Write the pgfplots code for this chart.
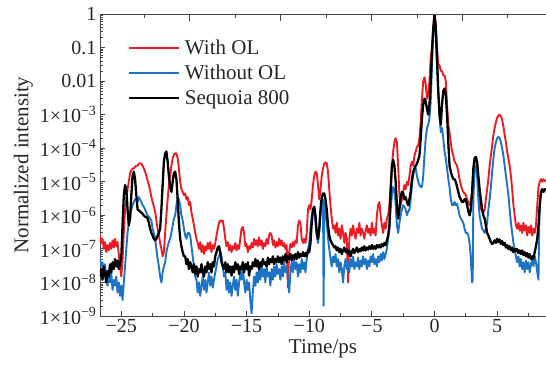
\documentclass[border=0pt]{standalone}
\usepackage{pgfplots}
\pgfplotsset{compat=1.18}
\usepackage{pgfplotstable}
\usepackage{fontspec}
\setmainfont{Liberation Serif}
\definecolor{cred}{RGB}{235,28,36}
\definecolor{cblue}{RGB}{30,116,196}
\definecolor{axgray}{RGB}{70,70,70}

\pgfplotstableread[row sep=\\]{x y\\
-26.7 1.5e-8\\ -26.6 2.5e-8\\ -26.5 1.2e-8\\ -26.4 3e-8\\ -26.3 1.8e-8\\ -26.2 1e-8\\ -26.1 2.2e-8\\ -26.0 1.5e-8\\ -25.9 3.5e-8\\ -25.8 2e-8\\
-25.7 4e-8\\ -25.6 2.5e-8\\ -25.5 5e-8\\ -25.4 3e-8\\ -25.3 4.5e-8\\ -25.2 2.5e-8\\ -25.1 3.5e-8\\ -25.0 6e-8\\ -24.9 5e-7\\ -24.8 4e-6\\
-24.7 8e-6\\ -24.6 6e-6\\ -24.5 1.5e-6\\ -24.4 5e-7\\ -24.3 8e-7\\ -24.2 4e-6\\ -24.1 1.5e-5\\ -24.0 2e-5\\ -23.9 1.2e-5\\ -23.8 4e-6\\
-23.7 1.5e-6\\ -23.6 1.4e-6\\ -23.5 1.3e-6\\ -23.4 1.2e-6\\ -23.3 1.1e-6\\ -23.2 1e-6\\ -23.1 9e-7\\ -23.0 9e-7\\ -22.9 8e-7\\ -22.8 6e-7\\
-22.7 4e-7\\ -22.6 3e-7\\ -22.5 2.5e-7\\ -22.4 2e-7\\ -22.3 1.8e-7\\ -22.2 2e-7\\ -22.1 2.5e-7\\ -22.0 3e-7\\ -21.9 4e-7\\ -21.8 1.5e-6\\
-21.7 8e-6\\ -21.6 4e-5\\ -21.5 7e-5\\ -21.4 8e-5\\ -21.3 4e-5\\ -21.2 1.5e-5\\ -21.1 7e-6\\ -21.0 5e-6\\ -20.9 1e-5\\ -20.8 1.8e-5\\
-20.7 2e-5\\ -20.6 1.2e-5\\ -20.5 3e-6\\ -20.4 6e-7\\ -20.3 2e-7\\ -20.2 1.2e-7\\ -20.1 8e-8\\ -20.0 6e-8\\
-19.9 6e-8\\ -19.8 3.5e-8\\ -19.7 5e-8\\ -19.6 2.5e-8\\ -19.5 4e-8\\ -19.4 3e-8\\ -19.3 2e-8\\ -19.2 3.5e-8\\ -19.1 1.8e-8\\ -19.0 3e-8\\
-18.9 1.5e-8\\ -18.8 2.5e-8\\ -18.7 2e-8\\ -18.6 3.5e-8\\ -18.5 2e-8\\ -18.4 1.5e-8\\ -18.3 3e-8\\ -18.2 2e-8\\ -18.1 4e-8\\ -18.0 2.5e-8\\
-17.9 3.5e-8\\ -17.8 2e-8\\ -17.7 4e-8\\ -17.6 3e-8\\ -17.5 6e-8\\ -17.4 8e-8\\ -17.3 1.1e-7\\ -17.2 1.2e-7\\ -17.1 8e-8\\ -17.0 4e-8\\
-16.9 3e-8\\ -16.8 2.5e-8\\ -16.7 4e-8\\ -16.6 2e-8\\ -16.5 3.5e-8\\ -16.4 2e-8\\ -16.3 3e-8\\ -16.2 1.6e-8\\ -16.1 3e-8\\ -16.0 2e-8\\
-15.9 4e-8\\ -15.8 2.5e-8\\ -15.7 3.5e-8\\ -15.6 1.8e-8\\ -15.5 3e-8\\ -15.4 2.5e-8\\ -15.3 4e-8\\ -15.2 2e-8\\ -15.1 3.5e-8\\ -15.0 2.5e-8\\
-14.9 4e-8\\ -14.8 1.6e-8\\ -14.7 3e-8\\ -14.6 2.5e-8\\ -14.5 4e-8\\ -14.4 3e-8\\ -14.3 5e-8\\ -14.2 3e-8\\ -14.1 4.5e-8\\ -14.0 2.5e-8\\
-13.9 4e-8\\ -13.8 3e-8\\ -13.7 5e-8\\ -13.6 3.5e-8\\ -13.5 4e-8\\ -13.4 3e-8\\ -13.3 5.5e-8\\ -13.2 3.5e-8\\ -13.1 5e-8\\ -13.0 4e-8\\
-12.9 6e-8\\ -12.8 3.5e-8\\ -12.7 5e-8\\ -12.6 4e-8\\ -12.5 6e-8\\ -12.4 4e-8\\ -12.3 5.5e-8\\ -12.2 3.5e-8\\ -12.1 6e-8\\ -12.0 4.5e-8\\
-11.9 7e-8\\ -11.8 4e-8\\ -11.7 6e-8\\ -11.6 5e-8\\ -11.5 7e-8\\ -11.4 4.5e-8\\ -11.3 6.5e-8\\ -11.2 5e-8\\ -11.1 7e-8\\ -11.0 5e-8\\
-10.9 8e-8\\ -10.8 5.5e-8\\ -10.7 7e-8\\ -10.6 6e-8\\ -10.5 8e-8\\ -10.4 6e-8\\ -10.3 7.5e-8\\ -10.2 6e-8\\ -10.1 9e-8\\ -10.0 8e-8\\
-9.9 1.5e-7\\ -9.8 6e-7\\ -9.7 1.5e-6\\ -9.6 1.8e-6\\ -9.5 1e-6\\ -9.4 3e-7\\ -9.3 2e-7\\ -9.2 4e-7\\ -9.1 1.5e-6\\ -9.0 3.5e-6\\
-8.9 4.5e-6\\ -8.8 4.5e-6\\ -8.7 3e-6\\ -8.6 1.5e-6\\ -8.5 5e-7\\ -8.4 2.5e-7\\ -8.3 1.8e-7\\ -8.2 1.5e-7\\ -8.1 1.3e-7\\ -8.0 1.1e-7\\
-7.9 1.2e-7\\ -7.8 9e-8\\ -7.7 1.1e-7\\ -7.6 8e-8\\ -7.5 1e-7\\ -7.4 7e-8\\ -7.3 9e-8\\ -7.2 1.1e-7\\ -7.1 8e-8\\ -7.0 1e-7\\
-6.9 7e-8\\ -6.8 9e-8\\ -6.7 6e-8\\ -6.6 8e-8\\ -6.5 1e-7\\ -6.4 7.5e-8\\ -6.3 9e-8\\ -6.2 1.1e-7\\ -6.1 8e-8\\ -6.0 1e-7\\
-5.9 8.5e-8\\ -5.8 1.1e-7\\ -5.7 9e-8\\ -5.6 1.2e-7\\ -5.5 9e-8\\ -5.4 1.1e-7\\ -5.3 9.5e-8\\ -5.2 1.2e-7\\ -5.1 1e-7\\ -5.0 1.3e-7\\
-4.9 1e-7\\ -4.8 1.2e-7\\ -4.7 1e-7\\ -4.6 1.3e-7\\ -4.5 1.1e-7\\ -4.4 1.3e-7\\ -4.3 1.1e-7\\ -4.2 1.4e-7\\ -4.1 1.2e-7\\ -4.0 1.5e-7\\
-3.9 1.3e-7\\ -3.8 1.8e-7\\ -3.7 2.5e-7\\ -3.6 5e-7\\ -3.5 5e-6\\ -3.4 3e-5\\ -3.3 4.5e-5\\ -3.2 3e-5\\ -3.1 1e-5\\ -3.0 2e-6\\
-2.9 8e-7\\ -2.8 1.5e-6\\ -2.7 3.5e-6\\ -2.6 5e-6\\ -2.5 4.5e-6\\ -2.4 3e-6\\ -2.3 3.5e-6\\ -2.2 2.5e-6\\ -2.1 2e-6\\ -2.0 3e-6\\
-1.9 5e-6\\ -1.8 1.2e-5\\ -1.7 2e-5\\ -1.6 2.5e-5\\ -1.5 3e-5\\ -1.4 3.5e-5\\ -1.3 4.5e-5\\ -1.2 6e-5\\ -1.1 2e-4\\ -1.0 8e-4\\
-0.9 2e-3\\ -0.8 3e-3\\ -0.7 2.5e-3\\ -0.6 1.5e-3\\ -0.5 1e-3\\ -0.4 2e-3\\ -0.3 1e-2\\ -0.2 8e-2\\ -0.1 0.35\\ 0.0 1\\
0.1 0.4\\ 0.2 0.05\\ 0.3 5e-3\\ 0.4 1e-3\\ 0.5 5e-4\\ 0.6 2e-3\\ 0.7 5e-3\\ 0.8 6e-3\\ 0.9 4e-3\\ 1.0 1e-3\\
1.1 1.5e-4\\ 1.2 3e-5\\ 1.3 2e-5\\ 1.4 1.5e-5\\ 1.5 1.2e-5\\ 1.6 1.2e-5\\ 1.7 1e-5\\ 1.8 7e-6\\ 1.9 5e-6\\ 2.0 3.5e-6\\
2.1 3e-6\\ 2.2 2.5e-6\\ 2.3 2.5e-6\\ 2.4 3e-6\\ 2.5 3e-6\\ 2.6 2e-6\\ 2.7 1.3e-6\\ 2.8 1e-6\\ 2.9 1.5e-6\\ 3.0 5e-6\\
3.1 2.5e-5\\ 3.2 5e-5\\ 3.3 5.5e-5\\ 3.4 4e-5\\ 3.5 1.5e-5\\ 3.6 6e-6\\ 3.7 3e-6\\ 3.8 1.5e-6\\ 3.9 1e-6\\ 4.0 8e-7\\
4.1 5e-7\\ 4.2 3e-7\\ 4.3 2.5e-7\\ 4.4 2e-7\\ 4.5 1.6e-7\\ 4.6 1.4e-7\\ 4.7 1.5e-7\\ 4.8 1.8e-7\\ 4.9 1.5e-7\\ 5.0 2e-7\\
5.1 1.6e-7\\ 5.2 1.9e-7\\ 5.3 1.4e-7\\ 5.4 1.7e-7\\ 5.5 1.3e-7\\ 5.6 1.5e-7\\ 5.7 1.1e-7\\ 5.8 1.3e-7\\ 5.9 1e-7\\ 6.0 1.2e-7\\
6.1 9e-8\\ 6.2 1.1e-7\\ 6.3 8e-8\\ 6.4 1e-7\\ 6.5 8.5e-8\\ 6.6 1e-7\\ 6.7 7.5e-8\\ 6.8 9e-8\\ 6.9 7e-8\\ 7.0 9e-8\\
7.1 6.5e-8\\ 7.2 8e-8\\ 7.3 6e-8\\ 7.4 7.5e-8\\ 7.5 5.5e-8\\ 7.6 7e-8\\ 7.7 5e-8\\ 7.8 6e-8\\ 7.9 5e-8\\ 8.0 8e-8\\
8.1 1.2e-7\\ 8.2 2e-7\\ 8.3 5e-7\\ 8.4 2e-6\\ 8.5 5e-6\\ 8.6 6e-6\\ 8.7 5e-6\\ 8.8 6e-6\\ 8.9 5.5e-6\\
}\tblack

\pgfplotstableread[row sep=\\]{x y\\
-26.7 2.5e-7\\ -26.6 1.5e-7\\ -26.5 2e-7\\ -26.4 1e-7\\ -26.3 1.6e-7\\ -26.2 8e-8\\ -26.1 1.3e-7\\ -26.0 9e-8\\ -25.9 1.5e-7\\ -25.8 1e-7\\
-25.7 1.8e-7\\ -25.6 1.1e-7\\ -25.5 2e-7\\ -25.4 1.2e-7\\ -25.3 1.6e-7\\ -25.2 7e-8\\ -25.1 3e-8\\ -25.0 1.5e-8\\ -24.9 5e-8\\ -24.8 3e-7\\
-24.7 1.5e-6\\ -24.6 3e-6\\ -24.5 6e-6\\ -24.4 1e-5\\ -24.3 1.8e-5\\ -24.2 2.2e-5\\ -24.1 2.5e-5\\ -24.0 2.5e-5\\ -23.9 2.8e-5\\ -23.8 3e-5\\
-23.7 3e-5\\ -23.6 3.5e-5\\ -23.5 3.5e-5\\ -23.4 3.5e-5\\ -23.3 3e-5\\ -23.2 2.5e-5\\ -23.1 2e-5\\ -23.0 1.5e-5\\ -22.9 1.1e-5\\ -22.8 8e-6\\
-22.7 5.5e-6\\ -22.6 3.5e-6\\ -22.5 2.5e-6\\ -22.4 1.8e-6\\ -22.3 1.3e-6\\ -22.2 7e-7\\ -22.1 4e-7\\ -22.0 2.5e-7\\ -21.9 1.5e-7\\ -21.8 1e-7\\
-21.7 6e-8\\ -21.6 8e-8\\ -21.5 3e-7\\ -21.4 1e-6\\ -21.3 3e-6\\ -21.2 8e-6\\ -21.1 1.5e-5\\ -21.0 3e-5\\ -20.9 5e-5\\ -20.8 6.5e-5\\
-20.7 7e-5\\ -20.6 7e-5\\ -20.5 5e-5\\ -20.4 2.5e-5\\ -20.3 1e-5\\ -20.2 6e-6\\ -20.1 5e-6\\ -20.0 4e-6\\ -19.9 4.5e-6\\ -19.8 3e-6\\
-19.7 3.5e-6\\ -19.6 2e-6\\ -19.5 2.5e-6\\ -19.4 1.2e-6\\ -19.3 8e-7\\ -19.2 5e-7\\ -19.1 3e-7\\ -19.0 2e-7\\ -18.9 1.5e-7\\ -18.8 1e-7\\
-18.7 1.6e-7\\ -18.6 8e-8\\ -18.5 1.3e-7\\ -18.4 7e-8\\ -18.3 1.2e-7\\ -18.2 9e-8\\ -18.1 1.5e-7\\ -18.0 1e-7\\ -17.9 1.6e-7\\ -17.8 8e-8\\
-17.7 1.3e-7\\ -17.6 1e-7\\ -17.5 1.5e-7\\ -17.4 2.5e-7\\ -17.3 4e-7\\ -17.2 6e-7\\ -17.1 7e-7\\ -17.0 6.5e-7\\ -16.9 7e-7\\ -16.8 4e-7\\
-16.7 2e-7\\ -16.6 1.2e-7\\ -16.5 1.6e-7\\ -16.4 9e-8\\ -16.3 1.3e-7\\ -16.2 8e-8\\ -16.1 1.2e-7\\ -16.0 1e-7\\ -15.9 1.5e-7\\ -15.8 9e-8\\
-15.7 1.3e-7\\ -15.6 1e-7\\ -15.5 2e-7\\ -15.4 4e-7\\ -15.3 4.5e-7\\ -15.2 3e-7\\ -15.1 1.2e-7\\ -15.0 1.4e-7\\ -14.9 8e-8\\ -14.8 1.2e-7\\
-14.7 1e-7\\ -14.6 1.5e-7\\ -14.5 1.1e-7\\ -14.4 2e-7\\ -14.3 1.3e-7\\ -14.2 1.8e-7\\ -14.1 1.2e-7\\ -14.0 2.2e-7\\ -13.9 1.3e-7\\ -13.8 1.8e-7\\
-13.7 1e-7\\ -13.6 1.5e-7\\ -13.5 1.2e-7\\ -13.4 2e-7\\ -13.3 1.4e-7\\ -13.2 2.5e-7\\ -13.1 3e-7\\ -13.0 2.5e-7\\ -12.9 1.3e-7\\ -12.8 1.8e-7\\
-12.7 1.1e-7\\ -12.6 1.6e-7\\ -12.5 1.2e-7\\ -12.4 2e-7\\ -12.3 1.3e-7\\ -12.2 1.8e-7\\ -12.1 1.2e-7\\ -12.0 1.5e-7\\ -11.9 1e-7\\ -11.8 1.3e-7\\
-11.7 7e-9\\ -11.6 8e-8\\ -11.5 1.4e-7\\ -11.4 1.1e-7\\ -11.3 1.6e-7\\ -11.2 1.2e-7\\ -11.1 1.8e-7\\ -11.0 1.5e-7\\ -10.9 5e-7\\ -10.8 7e-7\\
-10.7 6e-7\\ -10.6 2e-7\\ -10.5 1.5e-7\\ -10.4 2e-7\\ -10.3 1.5e-7\\ -10.2 3e-7\\ -10.1 1.5e-6\\ -10.0 2e-6\\ -9.9 1.5e-6\\ -9.8 3e-6\\
-9.7 8e-6\\ -9.6 1.5e-5\\ -9.5 2e-5\\ -9.4 1.8e-5\\ -9.3 8e-6\\ -9.2 3e-6\\ -9.1 6e-6\\ -9.0 1.5e-5\\ -8.9 2.5e-5\\ -8.8 3.5e-5\\
-8.7 3.8e-5\\ -8.6 3.5e-5\\ -8.5 2e-5\\ -8.4 6e-6\\ -8.3 2e-6\\ -8.2 8e-7\\ -8.1 4e-7\\ -8.0 5e-7\\ -7.9 3e-7\\ -7.8 6e-7\\
-7.7 2.5e-7\\ -7.6 4e-7\\ -7.5 2e-7\\ -7.4 5e-7\\ -7.3 3e-7\\ -7.2 1.5e-7\\ -7.1 3e-7\\ -7.0 2e-7\\ -6.9 1e-8\\ -6.8 2e-7\\
-6.7 4e-7\\ -6.6 2.5e-7\\ -6.5 5e-7\\ -6.4 3e-7\\ -6.3 2e-7\\ -6.2 4e-7\\ -6.1 3e-7\\ -6.0 6e-7\\ -5.9 2.5e-7\\ -5.8 4e-7\\
-5.7 3e-7\\ -5.6 2e-7\\ -5.5 3.5e-7\\ -5.4 5e-7\\ -5.3 3e-7\\ -5.2 4e-7\\ -5.1 2.5e-7\\ -5.0 6e-7\\ -4.9 3e-7\\ -4.8 4e-7\\
-4.7 2.5e-7\\ -4.6 1e-6\\ -4.5 2e-6\\ -4.4 2.5e-6\\ -4.3 1e-6\\ -4.2 5e-7\\ -4.1 3e-7\\ -4.0 6e-7\\ -3.9 4e-7\\ -3.8 8e-7\\
-3.7 1e-6\\ -3.6 2e-6\\ -3.5 8e-6\\ -3.4 3e-5\\ -3.3 8e-5\\ -3.2 1.5e-4\\ -3.1 2e-4\\ -3.0 1.5e-4\\ -2.9 3e-5\\ -2.8 4e-6\\
-2.7 2e-6\\ -2.6 3e-6\\ -2.5 5e-6\\ -2.4 8e-6\\ -2.3 6e-6\\ -2.2 1e-5\\ -2.1 8e-6\\ -2.0 1.5e-5\\ -1.9 3e-5\\ -1.8 4e-5\\
-1.7 3e-5\\ -1.6 6e-5\\ -1.5 8e-5\\ -1.4 1.1e-4\\ -1.3 1.2e-4\\ -1.2 2e-4\\ -1.1 6e-4\\ -1.0 3e-3\\ -0.9 1e-2\\ -0.8 1.3e-2\\
-0.7 8e-3\\ -0.6 3e-3\\ -0.5 4e-3\\ -0.4 1e-2\\ -0.3 5e-2\\ -0.2 0.1\\ -0.1 0.4\\ 0.0 1\\ 0.1 0.5\\ 0.2 0.1\\
0.3 3e-2\\ 0.4 3e-2\\ 0.5 2e-2\\ 0.6 2e-2\\ 0.7 1.5e-2\\ 0.8 1.5e-2\\ 0.9 1e-2\\ 1.0 2e-3\\ 1.1 5e-4\\ 1.2 3e-4\\
1.3 1.5e-4\\ 1.4 8e-5\\ 1.5 6e-5\\ 1.6 4e-5\\ 1.7 3.5e-5\\ 1.8 3e-5\\ 1.9 2e-5\\ 2.0 1.2e-5\\ 2.1 8e-6\\ 2.2 6e-6\\
2.3 5e-6\\ 2.4 4.5e-6\\ 2.5 4e-6\\ 2.6 3e-6\\ 2.7 2.5e-6\\ 2.8 2e-6\\ 2.9 2.5e-6\\ 3.0 5e-6\\ 3.1 2e-5\\ 3.2 4.5e-5\\
3.3 5.5e-5\\ 3.4 3e-5\\ 3.5 8e-6\\ 3.6 3e-6\\ 3.7 1.5e-6\\ 3.8 1.5e-6\\ 3.9 1.2e-6\\ 4.0 1.5e-6\\ 4.1 3e-6\\ 4.2 6e-6\\
4.3 1.2e-5\\ 4.4 3e-5\\ 4.5 6e-5\\ 4.6 1.2e-4\\ 4.7 2.5e-4\\ 4.8 4e-4\\ 4.9 6e-4\\ 5.0 8e-4\\ 5.1 9.5e-4\\ 5.2 1e-3\\
5.3 9e-4\\ 5.4 7e-4\\ 5.5 4.5e-4\\ 5.6 2.5e-4\\ 5.7 1.5e-4\\ 5.8 8e-5\\ 5.9 5e-5\\ 6.0 3e-5\\ 6.1 1.5e-5\\ 6.2 6e-6\\
6.3 2e-6\\ 6.4 1e-6\\ 6.5 5e-7\\ 6.6 4e-7\\ 6.7 6e-7\\ 6.8 3.5e-7\\ 6.9 5e-7\\ 7.0 3e-7\\ 7.1 6e-7\\ 7.2 3.5e-7\\
7.3 5e-7\\ 7.4 2.5e-7\\ 7.5 4.5e-7\\ 7.6 3e-7\\ 7.7 5e-7\\ 7.8 2.5e-7\\ 7.9 4e-7\\ 8.0 3e-7\\ 8.1 5e-7\\ 8.2 2e-6\\
8.3 7e-6\\ 8.4 1e-5\\ 8.5 1.2e-5\\ 8.6 1e-5\\ 8.7 1.2e-5\\ 8.8 1.1e-5\\ 8.9 1e-5\\
}\tred

\pgfplotstableread[row sep=\\]{x y\\
-26.7 5e-8\\ -26.6 3e-8\\ -26.5 4e-8\\ -26.4 2e-8\\ -26.3 3.5e-8\\ -26.2 1.5e-8\\ -26.1 8e-9\\ -26.0 1.5e-8\\ -25.9 1e-8\\ -25.8 2e-8\\
-25.7 6e-9\\ -25.6 1.2e-8\\ -25.5 8e-9\\ -25.4 1.5e-8\\ -25.3 5e-9\\ -25.2 1e-8\\ -25.1 4e-9\\ -25.0 8e-9\\ -24.9 3e-9\\ -24.8 1e-8\\
-24.7 3e-8\\ -24.6 1e-7\\ -24.5 3e-7\\ -24.4 6e-7\\ -24.3 1e-6\\ -24.2 1.5e-6\\ -24.1 2e-6\\ -24.0 2.5e-6\\ -23.9 3e-6\\ -23.8 3e-6\\
-23.7 2.5e-6\\ -23.6 3.5e-6\\ -23.5 3e-6\\ -23.4 2.5e-6\\ -23.3 2e-6\\ -23.2 1.8e-6\\ -23.1 1.5e-6\\ -23.0 1.2e-6\\ -22.9 1e-6\\ -22.8 9e-7\\
-22.7 8e-7\\ -22.6 7e-7\\ -22.5 4e-7\\ -22.4 3e-7\\ -22.3 2e-7\\ -22.2 1e-7\\ -22.1 5e-8\\ -22.0 3e-8\\ -21.9 1.5e-8\\ -21.8 1e-8\\
-21.7 2e-8\\ -21.6 3e-8\\ -21.5 4e-8\\ -21.4 8e-8\\ -21.3 1.2e-7\\ -21.2 1.6e-7\\ -21.1 2e-7\\ -21.0 3e-7\\ -20.9 5e-7\\ -20.8 8e-7\\
-20.7 1e-6\\ -20.6 2e-6\\ -20.5 3.5e-6\\ -20.4 3e-6\\ -20.3 2e-6\\ -20.2 1e-6\\ -20.1 7e-7\\ -20.0 4e-7\\ -19.9 2.5e-7\\ -19.8 2e-7\\
-19.7 3e-7\\ -19.6 3e-7\\ -19.5 2.5e-7\\ -19.4 1.2e-7\\ -19.3 6e-8\\ -19.2 3e-8\\ -19.1 1.5e-8\\ -19.0 1.2e-8\\ -18.9 5e-9\\ -18.8 1e-8\\
-18.7 4e-9\\ -18.6 8e-9\\ -18.5 1.5e-8\\ -18.4 6e-9\\ -18.3 1.2e-8\\ -18.2 5e-9\\ -18.1 1e-8\\ -18.0 2e-8\\ -17.9 8e-9\\ -17.8 1.5e-8\\
-17.7 7e-9\\ -17.6 1.2e-8\\ -17.5 2e-8\\ -17.4 3e-8\\ -17.3 5e-8\\ -17.2 6e-8\\ -17.1 8e-8\\ -17.0 6e-8\\ -16.9 3e-8\\ -16.8 1.5e-8\\
-16.7 2e-8\\ -16.6 6e-9\\ -16.5 1.2e-8\\ -16.4 5e-9\\ -16.3 1e-8\\ -16.2 4e-9\\ -16.1 8e-9\\ -16.0 1.5e-8\\ -15.9 6e-9\\ -15.8 1.2e-8\\
-15.7 4e-9\\ -15.6 1e-8\\ -15.5 2e-8\\ -15.4 1.2e-8\\ -15.3 3e-8\\ -15.2 1e-8\\ -15.1 5e-9\\ -15.0 1.2e-8\\ -14.9 6e-9\\ -14.8 1e-8\\
-14.7 3e-9\\ -14.6 1.2e-9\\ -14.5 5e-9\\ -14.4 1.5e-8\\ -14.3 8e-9\\ -14.2 2e-8\\ -14.1 1e-8\\ -14.0 2.5e-8\\ -13.9 1.2e-8\\ -13.8 3e-8\\
-13.7 1.5e-8\\ -13.6 2.5e-8\\ -13.5 1e-8\\ -13.4 3e-8\\ -13.3 1.5e-8\\ -13.2 2e-8\\ -13.1 8e-9\\ -13.0 2.5e-8\\ -12.9 1.2e-8\\ -12.8 3e-8\\
-12.7 1.5e-8\\ -12.6 3.5e-8\\ -12.5 1.8e-8\\ -12.4 2.5e-8\\ -12.3 1.2e-8\\ -12.2 3e-8\\ -12.1 1.5e-8\\ -12.0 4e-8\\ -11.9 2e-8\\ -11.8 3e-8\\
-11.7 1.2e-8\\ -11.6 5e-9\\ -11.5 2e-8\\ -11.4 4e-8\\ -11.3 2e-8\\ -11.2 5e-8\\ -11.1 2.5e-8\\ -11.0 4e-8\\ -10.9 1.5e-8\\ -10.8 3.5e-8\\
-10.7 2e-8\\ -10.6 5e-8\\ -10.5 2.5e-8\\ -10.4 4e-8\\ -10.3 2e-8\\ -10.2 5e-8\\ -10.1 1e-7\\ -10.0 1.5e-7\\ -9.9 4e-7\\ -9.8 1e-6\\
-9.7 1.3e-6\\ -9.6 1.2e-6\\ -9.5 6e-7\\ -9.4 2.5e-7\\ -9.3 1.5e-7\\ -9.2 3e-7\\ -9.1 1e-6\\ -9.0 2.5e-6\\ -8.9 3e-6\\ -8.85 2e-9\\
-8.8 2.5e-6\\ -8.7 1.5e-6\\ -8.6 6e-7\\ -8.5 2e-7\\ -8.4 1e-7\\ -8.3 5e-8\\ -8.2 3e-8\\ -8.1 6e-8\\ -8.0 4e-8\\ -7.9 7e-8\\
-7.8 3e-8\\ -7.7 5e-8\\ -7.6 2e-8\\ -7.5 4e-8\\ -7.4 2.5e-8\\ -7.3 1e-8\\ -7.2 3e-8\\ -7.1 5e-8\\ -7.0 2.5e-8\\ -6.9 4e-8\\
-6.8 2e-8\\ -6.7 5e-8\\ -6.6 3e-8\\ -6.5 6e-8\\ -6.4 2.5e-8\\ -6.3 4e-8\\ -6.2 3e-8\\ -6.1 5.5e-8\\ -6.0 2.5e-8\\ -5.9 4.5e-8\\
-5.8 3e-8\\ -5.7 6e-8\\ -5.6 3.5e-8\\ -5.5 5e-8\\ -5.4 2.5e-8\\ -5.3 4.5e-8\\ -5.2 3e-8\\ -5.1 6e-8\\ -5.0 4e-8\\ -4.9 7e-8\\
-4.8 3.5e-8\\ -4.7 5e-8\\ -4.6 3e-8\\ -4.5 6e-8\\ -4.4 4e-8\\ -4.3 7e-8\\ -4.2 4.5e-8\\ -4.1 8e-8\\ -4.0 5e-8\\ -3.9 7e-8\\
-3.8 1e-7\\ -3.7 2e-7\\ -3.6 4e-7\\ -3.5 1.5e-6\\ -3.4 4e-6\\ -3.3 7e-6\\ -3.2 6e-6\\ -3.1 2e-6\\ -3.0 5e-7\\ -2.9 3e-7\\
-2.8 6e-7\\ -2.7 1e-6\\ -2.6 1.5e-6\\ -2.5 2e-6\\ -2.4 1.8e-6\\ -2.3 1.5e-6\\ -2.2 1e-6\\ -2.1 1.3e-6\\ -2.0 1.5e-6\\ -1.9 3e-6\\
-1.8 8e-6\\ -1.7 1.5e-5\\ -1.6 2.5e-5\\ -1.5 2.5e-5\\ -1.4 1.5e-5\\ -1.3 1e-5\\ -1.2 8e-6\\ -1.1 7e-6\\ -1.0 7e-6\\ -0.9 1.5e-5\\
-0.8 6e-5\\ -0.7 2e-4\\ -0.6 4e-4\\ -0.5 5e-4\\ -0.4 8e-4\\ -0.3 2.5e-3\\ -0.2 3e-2\\ -0.1 0.3\\ 0.0 0.8\\ 0.1 0.2\\
0.2 3e-2\\ 0.3 5e-3\\ 0.4 1e-3\\ 0.5 3e-4\\ 0.6 4e-4\\ 0.7 2e-4\\ 0.8 8e-5\\ 0.9 5e-5\\ 1.0 2.5e-5\\ 1.1 1.2e-5\\
1.2 7e-6\\ 1.3 3e-6\\ 1.4 2e-6\\ 1.5 2e-6\\ 1.6 2.5e-6\\ 1.7 2e-6\\ 1.8 2.2e-6\\ 1.9 1.5e-6\\ 2.0 1e-6\\ 2.1 8e-7\\
2.2 7e-7\\ 2.3 6e-7\\ 2.4 4e-7\\ 2.5 3e-7\\ 2.6 3e-7\\ 2.7 2.5e-7\\ 2.8 1.5e-7\\ 2.9 5e-8\\ 3.0 1e-8\\ 3.05 1.2e-8\\
3.1 3e-6\\ 3.2 2e-5\\ 3.3 3e-5\\ 3.4 1.5e-5\\ 3.5 3e-6\\ 3.6 1e-6\\ 3.7 6e-7\\ 3.8 4e-7\\ 3.9 3.5e-7\\ 4.0 3e-7\\
4.1 4e-7\\ 4.2 6e-7\\ 4.3 1.5e-6\\ 4.4 3e-6\\ 4.5 7e-6\\ 4.6 2e-5\\ 4.7 5e-5\\ 4.8 1e-4\\ 4.9 1.5e-4\\ 5.0 2e-4\\
5.1 2.2e-4\\ 5.2 2e-4\\ 5.3 1.5e-4\\ 5.4 1e-4\\ 5.5 6e-5\\ 5.6 3e-5\\ 5.7 1.5e-5\\ 5.8 8e-6\\ 5.9 4e-6\\ 6.0 1.5e-6\\
6.1 6e-7\\ 6.2 3e-7\\ 6.3 1.5e-7\\ 6.4 1e-7\\ 6.5 6e-8\\ 6.6 4e-8\\ 6.7 6e-8\\ 6.8 3e-8\\ 6.9 5e-8\\ 7.0 2.5e-8\\
7.1 4e-8\\ 7.2 2e-8\\ 7.3 4.5e-8\\ 7.4 2.5e-8\\ 7.5 4e-8\\ 7.6 2e-8\\ 7.7 3.5e-8\\ 7.8 5e-8\\ 7.9 3e-8\\ 8.0 6e-8\\
8.1 4e-8\\ 8.2 2e-8\\ 8.3 1.2e-8\\ 8.35 3e-7\\ 8.4 2e-6\\ 8.5 5e-6\\ 8.6 6e-6\\ 8.7 5e-6\\ 8.8 6e-6\\ 8.9 5.5e-6\\
}\tblue

\begin{document}
\begin{tikzpicture}
\begin{axis}[
  scale only axis, width=446pt, height=302pt,
  xmin=-26.7, xmax=8.9, ymin=1e-9, ymax=1, ymode=log,
  axis x line*=bottom, axis y line*=left,
  axis line style={axgray, line width=0.8pt},
  tick style={axgray, line width=0.8pt},
  tick align=inside,
  major tick length=5pt, minor tick length=3pt,
  xtick={-25,-20,-15,-10,-5,0,5},
  xticklabels={−25,−20,−15,−10,−5,0,5},
  minor xtick={-22.5,-17.5,-12.5,-7.5,-2.5,2.5,7.5},
  ytick={1e-9,1e-8,1e-7,1e-6,1e-5,1e-4,1e-3,1e-2,1e-1,1},
  yticklabels={1×10\textsuperscript{−9},1×10\textsuperscript{−8},1×10\textsuperscript{−7},1×10\textsuperscript{−6},1×10\textsuperscript{−5},1×10\textsuperscript{−4},1×10\textsuperscript{−3},0.01,0.1,1},
  minor ytick={2e-9,3e-9,4e-9,5e-9,6e-9,7e-9,8e-9,9e-9,
    2e-8,3e-8,4e-8,5e-8,6e-8,7e-8,8e-8,9e-8,
    2e-7,3e-7,4e-7,5e-7,6e-7,7e-7,8e-7,9e-7,
    2e-6,3e-6,4e-6,5e-6,6e-6,7e-6,8e-6,9e-6,
    2e-5,3e-5,4e-5,5e-5,6e-5,7e-5,8e-5,9e-5,
    2e-4,3e-4,4e-4,5e-4,6e-4,7e-4,8e-4,9e-4,
    2e-3,3e-3,4e-3,5e-3,6e-3,7e-3,8e-3,9e-3,
    2e-2,3e-2,4e-2,5e-2,6e-2,7e-2,8e-2,9e-2,
    2e-1,3e-1,4e-1,5e-1,6e-1,7e-1,8e-1,9e-1},
  tick label style={font=\fontsize{20}{24}\selectfont\rmfamily, text=black!85},
  label style={font=\fontsize{21}{25}\selectfont\rmfamily, text=black!85},
  xlabel={Time/ps}, ylabel={Normalized intensity},
  legend cell align=left,
  legend style={draw=none, fill=none, at={(0.063,0.93)}, anchor=north west,
    inner sep=0pt, row sep=0pt, column sep=2pt,
    font=\fontsize{21}{25}\selectfont\rmfamily,
    nodes={inner sep=2.5pt, text height=17pt, text depth=3pt, text=black!85}},
  legend image code/.code={\draw[#1, line width=2.2pt] (0pt,0pt) -- (50pt,0pt);},
  every axis plot/.append style={line join=round},
]
\addplot[cred, line width=1.9pt] table[x=x,y=y] {\tred};
\addlegendentry{With OL}
\addplot[cblue, line width=1.9pt] table[x=x,y=y] {\tblue};
\addlegendentry{Without OL}
\addplot[black, line width=2.3pt] table[x=x,y=y] {\tblack};
\addlegendentry{Sequoia 800}
\coordinate (O) at (rel axis cs:0,0);
\coordinate (T) at (rel axis cs:1,1);
\end{axis}
\begin{axis}[
  scale only axis, width=446pt, height=302pt,
  xmin=-26.7, xmax=8.9, ymin=1e-9, ymax=1, ymode=log,
  axis x line*=top, axis y line=none,
  axis line style={axgray, line width=0.8pt},
  tick style={axgray, line width=0.8pt},
  tick align=inside,
  major tick length=7pt, minor tick length=4pt,
  xtick={-19.54,-12.28,-5.05,2.2},
  minor xtick={-23.13,-15.9,-8.64,-1.40,5.81},
  xticklabels={},
]
\end{axis}
\pgfresetboundingbox
\path ([xshift=-100pt,yshift=-51pt]O) rectangle ([yshift=14pt]T);
\end{tikzpicture}
\end{document}
